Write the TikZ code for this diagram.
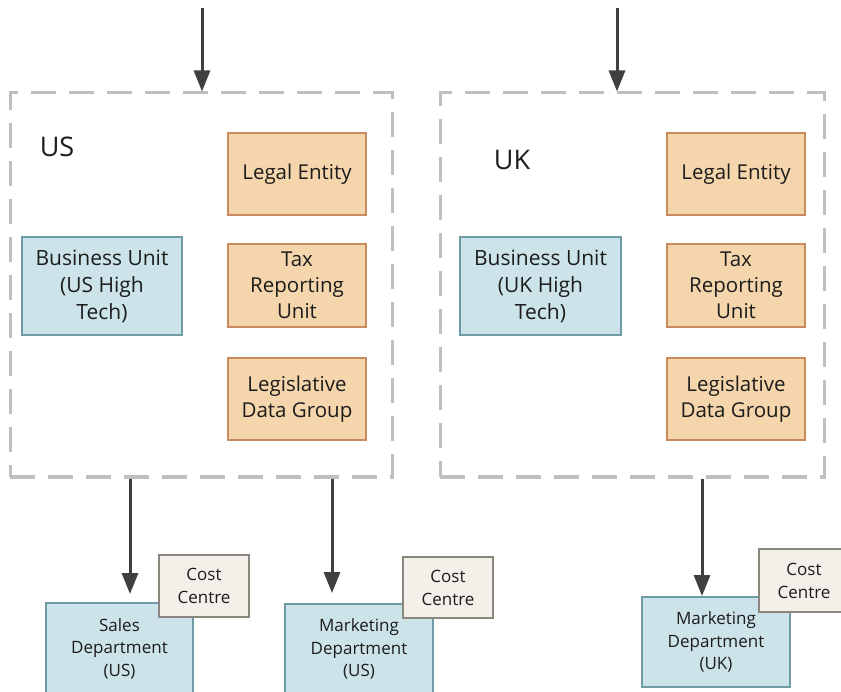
\documentclass[tikz,border=0pt]{standalone}
\usepackage{fontspec}
\setmainfont{Open Sans}
\usetikzlibrary{arrows.meta}
\definecolor{bufill}{HTML}{CCE4E9}
\definecolor{budraw}{HTML}{6E9BA6}
\definecolor{lefill}{HTML}{F5D5AB}
\definecolor{ledraw}{HTML}{C98A5E}
\definecolor{ccfill}{HTML}{F2F0E8}
\definecolor{ccdraw}{HTML}{8A877E}
\definecolor{dashgray}{HTML}{BFBFBF}
\definecolor{arrgray}{HTML}{404040}
\definecolor{txt}{HTML}{1C1C1C}
\tikzset{
  container/.style={draw=dashgray, line width=3pt, dash pattern=on 25pt off 13pt, inner sep=0pt},
  bubox/.style={draw=budraw, fill=bufill, line width=2pt, inner sep=0pt, align=center, text=txt,
    font=\fontsize{21}{27}\selectfont},
  lebox/.style={draw=ledraw, fill=lefill, line width=2.5pt, inner sep=0pt, align=center, text=txt,
    minimum width=138pt, font=\fontsize{20.5}{26}\selectfont},
  deptbox/.style={draw=budraw, fill=bufill, line width=2pt, inner sep=0pt, align=center, text=txt,
    minimum width=148pt, font=\fontsize{17}{22.5}\selectfont},
  ccbox/.style={draw=ccdraw, fill=ccfill, line width=2pt, inner sep=0pt, align=center, text=txt,
    minimum width=90pt, font=\fontsize{17}{23}\selectfont},
  countrylabel/.style={text=txt, inner sep=0pt, font=\fontsize{27}{32}\selectfont},
  arr/.style={draw=arrgray, line width=3pt, -{Triangle[length=21pt,width=16pt]}},
}
\begin{document}
\begin{tikzpicture}[x=1pt,y=-1pt]
\clip (0,0) rectangle (841,692);
\fill[white] (0,0) rectangle (841,692);

% containers
\node[container, minimum width=382pt, minimum height=384pt] (us) at (201,285) {};
\node[container, minimum width=384pt, minimum height=384pt] (uk) at (632,285) {};

% labels
\node[countrylabel] (uslbl) at (57,147) {US};
\node[countrylabel] (uklbl) at (512,160) {UK};

% US inner boxes
\node[lebox, minimum height=82pt] (usle) at (297,174) {Legal Entity};
\node[lebox, minimum height=83pt] (ustru) at (297,285.5) {Tax\\Reporting\\Unit};
\node[lebox, minimum height=82pt] (usldg) at (297,399) {Legislative\\Data Group};
\node[bubox, minimum width=160pt, minimum height=98pt] (usbu) at (102,286) {Business Unit\\(US High\\Tech)};

% UK inner boxes
\node[lebox, minimum height=82pt] (ukle) at (736,174) {Legal Entity};
\node[lebox, minimum height=83pt] (uktru) at (736,285.5) {Tax\\Reporting\\Unit};
\node[lebox, minimum height=82pt] (ukldg) at (736,399) {Legislative\\Data Group};
\node[bubox, minimum width=161pt, minimum height=98pt] (ukbu) at (540.5,286) {Business Unit\\(UK High\\Tech)};

% departments
\node[deptbox, minimum width=147pt, minimum height=91pt] (sales) at (119.5,648.5) {Sales\\Department\\(US)};
\node[ccbox, minimum height=62pt] (cc1) at (204,586) {Cost\\Centre};
\node[deptbox, minimum height=90pt] (mktus) at (359,649) {Marketing\\Department\\(US)};
\node[ccbox, minimum height=61pt] (cc2) at (448,587.5) {Cost\\Centre};
\node[deptbox, minimum height=90pt] (mktuk) at (716,642) {Marketing\\Department\\(UK)};
\node[ccbox, minimum height=63pt] (cc3) at (804,580.5) {Cost\\Centre};

% arrow x positions
\coordinate (t1) at (202,8);
\coordinate (t2) at (617,8);
\coordinate (b1) at (130,0);
\coordinate (b2) at (332,0);
\coordinate (b3) at (702,0);

\draw[arr] (t1) -- (t1 |- us.north);
\draw[arr] (t2) -- (t2 |- uk.north);
\draw[arr, shorten >=8pt] (us.south -| b1) -- (b1 |- sales.north);
\draw[arr, shorten >=10pt] (us.south -| b2) -- (b2 |- mktus.north);
\draw[arr] (uk.south -| b3) -- (b3 |- mktuk.north);
\end{tikzpicture}
\end{document}
